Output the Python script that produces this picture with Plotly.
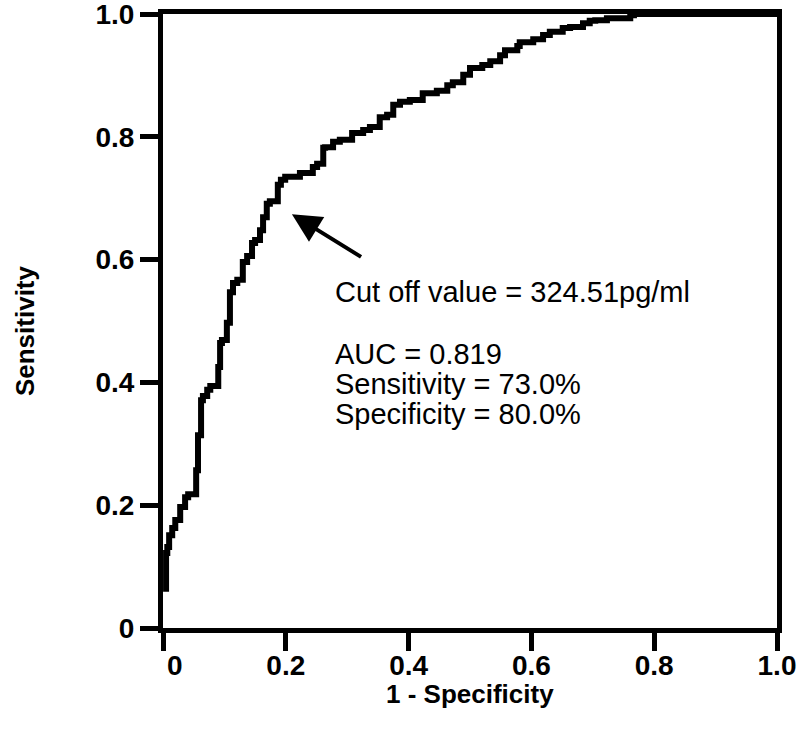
import plotly.graph_objects as go

# ROC curve step vertices (1 - specificity, sensitivity)
fpr = [0.005, 0.007, 0.010, 0.015, 0.020, 0.028, 0.036, 0.041, 0.054, 0.057,
       0.062, 0.065, 0.072, 0.077, 0.090, 0.093, 0.096, 0.104, 0.109, 0.114,
       0.121, 0.130, 0.137, 0.145, 0.150, 0.158, 0.163, 0.169, 0.174, 0.187,
       0.192, 0.199, 0.223, 0.244, 0.251, 0.261, 0.264, 0.277, 0.288, 0.308,
       0.326, 0.337, 0.353, 0.365, 0.375, 0.386, 0.402, 0.423, 0.446, 0.463,
       0.472, 0.489, 0.500, 0.520, 0.533, 0.549, 0.557, 0.577, 0.581, 0.603,
       0.619, 0.630, 0.651, 0.663, 0.684, 0.695, 0.704, 0.723, 0.761, 0.767,
       0.782, 1.000]
tpr = [0.059, 0.122, 0.132, 0.151, 0.163, 0.176, 0.197, 0.213, 0.218, 0.257,
       0.314, 0.371, 0.378, 0.388, 0.394, 0.425, 0.464, 0.469, 0.497, 0.547,
       0.562, 0.567, 0.596, 0.606, 0.627, 0.632, 0.648, 0.669, 0.691, 0.695,
       0.722, 0.730, 0.735, 0.741, 0.751, 0.756, 0.782, 0.783, 0.792, 0.795,
       0.806, 0.811, 0.816, 0.832, 0.836, 0.852, 0.857, 0.860, 0.871, 0.875,
       0.884, 0.889, 0.901, 0.912, 0.917, 0.923, 0.933, 0.941, 0.948, 0.954,
       0.959, 0.966, 0.971, 0.977, 0.979, 0.985, 0.989, 0.990, 0.993, 0.998,
       1.000, 1.000]

tick_vals = [0, 0.2, 0.4, 0.6, 0.8, 1.0]
y_tick_text = ["0", "0.2", "0.4", "0.6", "0.8", "1.0"]
x_tick_text = ["\u00a0\u00a0\u00a00", "0.2", "0.4", "0.6", "0.8", "1.0"]

arrow_tip = (0.210, 0.674)
arrow_tail = (0.325, 0.603)

info_x = 0.277
info_lines = [
    ("Cut off value = 324.51pg/ml", 0.548),
    ("AUC = 0.819", 0.446),
    ("Sensitivity = 73.0%", 0.397),
    ("Specificity = 80.0%", 0.349),
]

FONT = "Liberation Sans, Arial, sans-serif"

fig = go.Figure()
fig.add_trace(go.Scatter(
    x=fpr, y=tpr, mode="lines", line=dict(color="black", width=6, shape="vh"),
    cliponaxis=False, showlegend=False,
))

axis_common = dict(
    range=[0, 1], showline=True, linewidth=5, linecolor="black", mirror=True,
    ticks="outside", ticklen=18, tickwidth=5, tickcolor="black",
    showgrid=False, zeroline=False, automargin=False,
    tickvals=tick_vals, ticklabeloverflow="allow",
    tickfont=dict(family=FONT, size=28, color="black", weight="bold"),
    fixedrange=True,
)
fig.update_xaxes(**axis_common, ticktext=x_tick_text, ticklabelstandoff=-10)
fig.update_yaxes(**axis_common, ticktext=y_tick_text)

annotations = [
    dict(x=arrow_tip[0], y=arrow_tip[1], ax=arrow_tail[0], ay=arrow_tail[1],
         xref="x", yref="y", axref="x", ayref="y", text="", showarrow=True,
         arrowhead=2, arrowsize=1.45, arrowwidth=4, arrowcolor="black"),
    dict(x=-0.225, y=0.485, xref="paper", yref="paper", text="Sensitivity",
         textangle=-90, showarrow=False, xanchor="center", yanchor="middle",
         font=dict(family=FONT, size=26, color="black", weight="bold")),
    dict(x=0.5, y=-0.107, xref="paper", yref="paper", text="1 - Specificity",
         showarrow=False, xanchor="center", yanchor="middle",
         font=dict(family=FONT, size=26, color="black", weight="bold")),
]
for txt, yv in info_lines:
    annotations.append(dict(x=info_x, y=yv, xref="x", yref="y", text=txt,
                            xanchor="left", yanchor="middle", showarrow=False,
                            font=dict(family=FONT, size=29, color="black")))

fig.update_layout(
    width=800, height=743,
    margin=dict(l=163, r=23, t=14, b=115, autoexpand=False),
    paper_bgcolor="white", plot_bgcolor="white",
    annotations=annotations,
)

fig.write_html("out.html", config={"displayModeBar": False},
               post_script="document.body.style.margin='0px';document.body.style.overflow='hidden';")
